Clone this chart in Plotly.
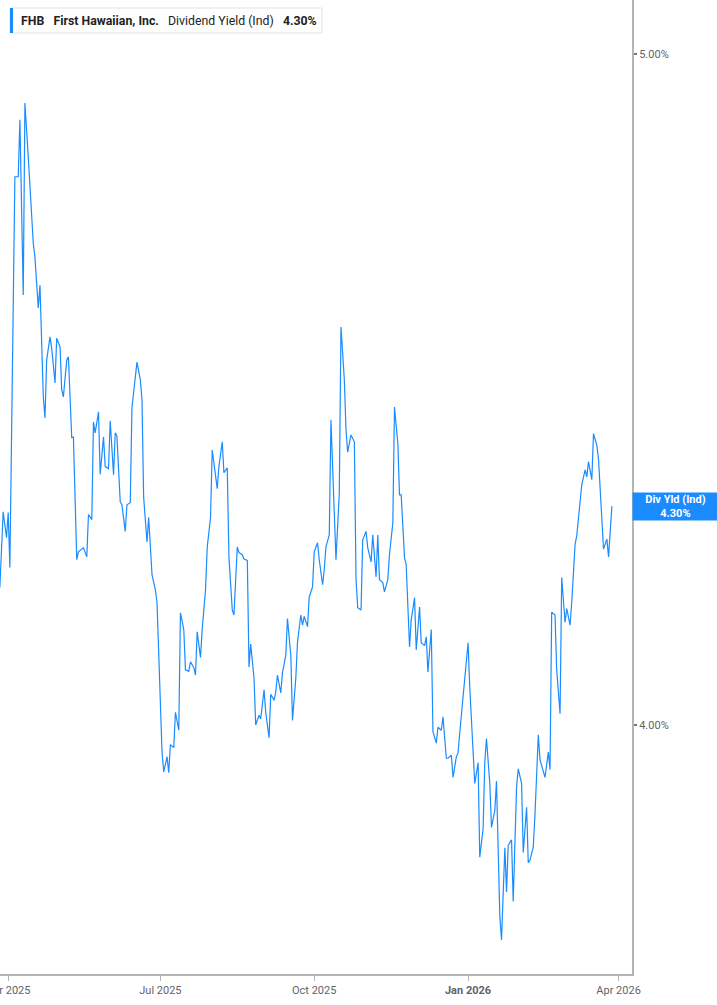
import plotly.graph_objects as go

dates = [
    "2025-03-27", "2025-03-29", "2025-03-31", "2025-04-01", "2025-04-02", "2025-04-05", "2025-04-07", "2025-04-08",
    "2025-04-10", "2025-04-11", "2025-04-13", "2025-04-16", "2025-04-17", "2025-04-19", "2025-04-20", "2025-04-22",
    "2025-04-23", "2025-04-24", "2025-04-26", "2025-04-27", "2025-04-29", "2025-04-30", "2025-05-02", "2025-05-03",
    "2025-05-04", "2025-05-06", "2025-05-07", "2025-05-09", "2025-05-10", "2025-05-12", "2025-05-13", "2025-05-16",
    "2025-05-18", "2025-05-19", "2025-05-21", "2025-05-22", "2025-05-23", "2025-05-25", "2025-05-26", "2025-05-28",
    "2025-05-29", "2025-05-31", "2025-06-01", "2025-06-03", "2025-06-04", "2025-06-05", "2025-06-07", "2025-06-08",
    "2025-06-10", "2025-06-11", "2025-06-13", "2025-06-14", "2025-06-17", "2025-06-19", "2025-06-20", "2025-06-21",
    "2025-06-23", "2025-06-24", "2025-06-26", "2025-06-28", "2025-06-29", "2025-07-01", "2025-07-02", "2025-07-03",
    "2025-07-05", "2025-07-06", "2025-07-07", "2025-07-09", "2025-07-10", "2025-07-12", "2025-07-13", "2025-07-15",
    "2025-07-16", "2025-07-18", "2025-07-19", "2025-07-21", "2025-07-22", "2025-07-23", "2025-07-25", "2025-07-26",
    "2025-07-28", "2025-07-29", "2025-07-31", "2025-08-01", "2025-08-03", "2025-08-04", "2025-08-05", "2025-08-07",
    "2025-08-08", "2025-08-10", "2025-08-11", "2025-08-13", "2025-08-14", "2025-08-16", "2025-08-17", "2025-08-19",
    "2025-08-20", "2025-08-22", "2025-08-23", "2025-08-24", "2025-08-26", "2025-08-27", "2025-08-29", "2025-08-30",
    "2025-09-01", "2025-09-02", "2025-09-04", "2025-09-05", "2025-09-07", "2025-09-08", "2025-09-09", "2025-09-11",
    "2025-09-12", "2025-09-14", "2025-09-15", "2025-09-17", "2025-09-18", "2025-09-20", "2025-09-21", "2025-09-23",
    "2025-09-24", "2025-09-25", "2025-09-27", "2025-09-28", "2025-09-30", "2025-10-01", "2025-10-03", "2025-10-04",
    "2025-10-06", "2025-10-07", "2025-10-08", "2025-10-10", "2025-10-11", "2025-10-13", "2025-10-14", "2025-10-16",
    "2025-10-17", "2025-10-19", "2025-10-20", "2025-10-21", "2025-10-23", "2025-10-25", "2025-10-26", "2025-10-27",
    "2025-10-29", "2025-10-30", "2025-11-01", "2025-11-02", "2025-11-04", "2025-11-05", "2025-11-07", "2025-11-08",
    "2025-11-09", "2025-11-11", "2025-11-12", "2025-11-14", "2025-11-15", "2025-11-17", "2025-11-18", "2025-11-20",
    "2025-11-21", "2025-11-22", "2025-11-24", "2025-11-25", "2025-11-27", "2025-11-28", "2025-11-30", "2025-12-01",
    "2025-12-03", "2025-12-04", "2025-12-06", "2025-12-07", "2025-12-08", "2025-12-10", "2025-12-11", "2025-12-13",
    "2025-12-14", "2025-12-16", "2025-12-17", "2025-12-19", "2025-12-20", "2025-12-22", "2025-12-23", "2025-12-25",
    "2025-12-26", "2025-12-27", "2025-12-29", "2025-12-30", "2026-01-01", "2026-01-02", "2026-01-04", "2026-01-05",
    "2026-01-07", "2026-01-08", "2026-01-10", "2026-01-11", "2026-01-12", "2026-01-14", "2026-01-15", "2026-01-17",
    "2026-01-18", "2026-01-20", "2026-01-21", "2026-01-23", "2026-01-24", "2026-01-25", "2026-01-27", "2026-01-28",
    "2026-01-30", "2026-01-31", "2026-02-02", "2026-02-03", "2026-02-05", "2026-02-06", "2026-02-07", "2026-02-09",
    "2026-02-10", "2026-02-12", "2026-02-13", "2026-02-15", "2026-02-16", "2026-02-18", "2026-02-19", "2026-02-20",
    "2026-02-22", "2026-02-23", "2026-02-25", "2026-02-26", "2026-02-28", "2026-03-01", "2026-03-03", "2026-03-04",
    "2026-03-06", "2026-03-07", "2026-03-09", "2026-03-10", "2026-03-12", "2026-03-13", "2026-03-14", "2026-03-16",
    "2026-03-17", "2026-03-19", "2026-03-20", "2026-03-22", "2026-03-23", "2026-03-25", "2026-03-26", "2026-03-28",
]

div_yield = [
    4.187, 4.294, 4.257, 4.293, 4.215, 4.800, 4.800, 4.892,
    4.615, 4.919, 4.832, 4.695, 4.673, 4.595, 4.630, 4.461,
    4.430, 4.516, 4.551, 4.534, 4.482, 4.549, 4.536, 4.472,
    4.461, 4.516, 4.521, 4.401, 4.402, 4.226, 4.237, 4.243,
    4.230, 4.290, 4.283, 4.424, 4.408, 4.439, 4.348, 4.402,
    4.359, 4.356, 4.426, 4.347, 4.408, 4.404, 4.308, 4.304,
    4.266, 4.304, 4.307, 4.445, 4.513, 4.487, 4.457, 4.315,
    4.251, 4.286, 4.205, 4.184, 4.166, 4.011, 3.964, 3.938,
    3.958, 3.937, 3.974, 3.970, 4.017, 3.993, 4.152, 4.129,
    4.074, 4.072, 4.085, 4.077, 4.067, 4.126, 4.091, 4.129,
    4.184, 4.243, 4.286, 4.383, 4.340, 4.327, 4.359, 4.395,
    4.350, 4.357, 4.230, 4.156, 4.149, 4.244, 4.236, 4.233,
    4.227, 4.225, 4.078, 4.109, 4.063, 4.000, 4.013, 4.008,
    4.047, 4.017, 3.983, 4.041, 4.033, 4.044, 4.067, 4.043,
    4.070, 4.094, 4.144, 4.094, 4.006, 4.063, 4.112, 4.149,
    4.135, 4.147, 4.133, 4.174, 4.188, 4.237, 4.250, 4.226,
    4.191, 4.212, 4.244, 4.261, 4.427, 4.301, 4.226, 4.321,
    4.566, 4.487, 4.413, 4.380, 4.405, 4.395, 4.198, 4.159,
    4.156, 4.254, 4.266, 4.243, 4.223, 4.261, 4.202, 4.261,
    4.198, 4.194, 4.181, 4.198, 4.233, 4.278, 4.446, 4.393,
    4.318, 4.318, 4.229, 4.219, 4.105, 4.142, 4.173, 4.101,
    4.160, 4.111, 4.107, 4.119, 4.071, 4.129, 3.991, 3.976,
    3.997, 3.993, 4.011, 3.956, 3.956, 3.960, 3.931, 3.958,
    3.963, 3.989, 4.037, 4.060, 4.111, 4.051, 3.956, 3.923,
    3.950, 3.828, 3.865, 3.951, 3.982, 3.923, 3.866, 3.888,
    3.926, 3.753, 3.724, 3.840, 3.784, 3.843, 3.850, 3.772,
    3.918, 3.942, 3.923, 3.834, 3.892, 3.821, 3.824, 3.841,
    3.882, 3.987, 3.954, 3.938, 3.931, 3.964, 3.941, 4.153,
    4.149, 4.074, 4.015, 4.201, 4.139, 4.158, 4.135, 4.167,
    4.248, 4.260, 4.307, 4.333, 4.354, 4.344, 4.366, 4.340,
    4.407, 4.390, 4.370, 4.287, 4.241, 4.255, 4.230, 4.302,
]

x_tick_vals = ["2025-04-01", "2025-07-01", "2025-10-01", "2026-01-01", "2026-04-01"]
x_tick_text = ["Apr 2025", "Jul 2025", "Oct 2025", "<b>Jan 2026</b>", "Apr 2026"]
y_tick_vals = [4.0, 5.0]
y_tick_text = ["4.00%", "5.00%"]

ticker = "FHB"
company = "First Hawaiian, Inc."
metric = "Dividend Yield (Ind)"
last_label = "4.30%"

LINE = "#1a8cff"
AXIS = "#b5b5b5"
TXT = "#5f6368"

fig = go.Figure()
fig.add_trace(go.Scatter(
    x=dates, y=div_yield, mode="lines",
    line=dict(color=LINE, width=1.2),
    hoverinfo="skip", showlegend=False,
))

W, H = 717, 1005
ml, mr, mt, mb = 0, 85, 0, 31
pw, ph = W - ml - mr, H - mt - mb

fig.update_layout(
    width=W, height=H,
    margin=dict(l=ml, r=mr, t=mt, b=mb, pad=0, autoexpand=False),
    paper_bgcolor="white", plot_bgcolor="white",
    font=dict(family="Roboto", size=11, color=TXT),
    xaxis=dict(
        type="date",
        range=["2025-03-27 02:24", "2026-04-09 00:43"],
        tickvals=x_tick_vals, ticktext=x_tick_text,
        ticks="outside", ticklen=5, tickwidth=1, tickcolor=AXIS,
        showline=True, linecolor=AXIS, linewidth=2,
        showgrid=False, zeroline=False, automargin=False,
        ticklabeloverflow="allow",
        tickfont=dict(family="Roboto", size=11, color=TXT),
    ),
    yaxis=dict(
        type="log", side="right",
        range=[0.566097, 0.706769],
        tickvals=y_tick_vals, ticktext=y_tick_text,
        ticks="outside", ticklen=3, tickwidth=2, tickcolor="#777777",
        showline=True, linecolor=AXIS, linewidth=2,
        showgrid=False, zeroline=False, automargin=False,
        tickfont=dict(family="Roboto", size=11, color=TXT),
    ),
)

# header box (frame, accent bar, text)
fig.add_shape(
    type="rect", xref="paper", yref="paper", layer="above",
    x0=10 / pw, x1=322 / pw, y0=1 - 33 / ph, y1=1 - 8 / ph,
    fillcolor="white", line=dict(color="#e3e3e3", width=1),
)
fig.add_shape(
    type="rect", xref="paper", yref="paper", layer="above",
    x0=10 / pw, x1=13 / pw, y0=1 - 33 / ph, y1=1 - 8 / ph,
    fillcolor=LINE, line=dict(width=0),
)
fig.add_annotation(
    xref="paper", yref="paper", x=20 / pw, y=1 - 20.5 / ph,
    xanchor="left", yanchor="middle", showarrow=False, align="left",
    text=f"<b>{ticker}</b>&nbsp;&nbsp;&nbsp;<b>{company}</b>&nbsp;&nbsp;&nbsp;{metric}&nbsp;&nbsp;&nbsp;<b>{last_label}</b>",
    font=dict(family="Roboto", size=12.3, color="#222222"),
    borderpad=0,
)

# last value label on right axis
fig.add_annotation(
    xref="paper", yref="y", x=1, y=0.63367,
    xanchor="left", yanchor="middle", showarrow=False, align="center",
    text=f"<b>Div Yld (Ind)<br>{last_label}</b>",
    font=dict(family="Roboto", size=11, color="white"),
    bgcolor=LINE, width=83, height=25, borderpad=1,
)

fig.write_html(
    "out.html",
    config={"displayModeBar": False, "staticPlot": True},
    post_script="document.body.style.margin='0';document.body.style.padding='0';",
)
